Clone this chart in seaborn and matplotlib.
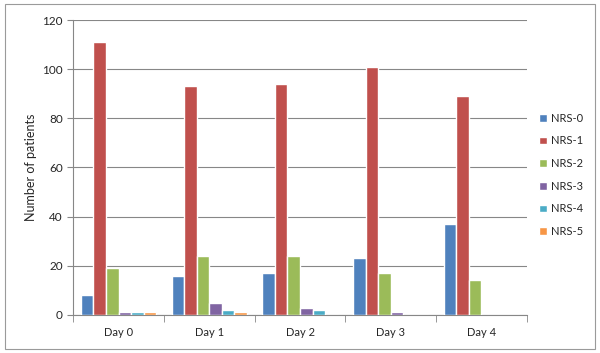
import matplotlib
matplotlib.use("Agg")
import matplotlib.pyplot as plt
import seaborn as sns
import pandas as pd
import numpy as np

days = ["Day 0", "Day 1", "Day 2", "Day 3", "Day 4"]
series = ["NRS-0", "NRS-1", "NRS-2", "NRS-3", "NRS-4", "NRS-5"]
nrs0 = [8, 16, 17, 23, 37]
nrs1 = [111, 93, 94, 101, 89]
nrs2 = [19, 24, 24, 17, 14]
nrs3 = [1, 5, 3, 1, 0]
nrs4 = [1, 2, 2, 0, 0]
nrs5 = [1, 1, 0, 0, 0]
colors = ["#4F81BD", "#C0504D", "#9BBB59", "#8064A2", "#4BACC6", "#F79646"]
yticks = [0, 20, 40, 60, 80, 100, 120]

values = [nrs0, nrs1, nrs2, nrs3, nrs4, nrs5]
rows = []
for s, vals in zip(series, values):
    for d, v in zip(days, vals):
        rows.append({"Day": d, "Series": s, "Count": v})
df = pd.DataFrame(rows)

sns.set_style("white")
plt.rcParams["font.family"] = ["Lato", "DejaVu Sans"]

fig = plt.figure(figsize=(6, 3.53), dpi=100)
ax = fig.add_axes([0.122, 0.108, 0.756, 0.835])

sns.barplot(data=df, x="Day", y="Count", hue="Series", order=days,
            hue_order=series, palette=colors, width=0.83, saturation=1,
            ax=ax, legend=True, zorder=3)

ax.set_ylim(0, 120)
ax.set_xlim(-0.5, 4.5)
ax.set_yticks(yticks)
ax.yaxis.grid(True, color="#878787", linewidth=0.8, zorder=0)
ax.set_axisbelow(True)
ax.set_xlabel("")
ax.set_ylabel("Number of patients", fontsize=9)
ax.tick_params(axis="y", labelsize=8.5, length=4, color="#878787", direction="out", left=True)
ax.tick_params(axis="x", which="major", labelsize=8, length=0, pad=9)
ax.set_xticks(np.arange(-0.5, 5, 1.0), minor=True)
ax.tick_params(axis="x", which="minor", length=5, color="#878787", direction="out", bottom=True)

for sp in ["top", "right"]:
    ax.spines[sp].set_visible(False)
for sp in ["left", "bottom"]:
    ax.spines[sp].set_color("#878787")
    ax.spines[sp].set_linewidth(0.8)

leg = ax.legend(loc="center left", bbox_to_anchor=(1.005, 0.475), frameon=False,
                fontsize=8, handlelength=0.7, handleheight=0.7,
                labelspacing=1.05, handletextpad=0.4, title=None)

border = plt.Rectangle((0.008, 0.012), 0.984, 0.976, transform=fig.transFigure,
                       fill=False, edgecolor="#9a9a9a", linewidth=0.8)
fig.patches.append(border)

fig.savefig("out.png", dpi=100)
